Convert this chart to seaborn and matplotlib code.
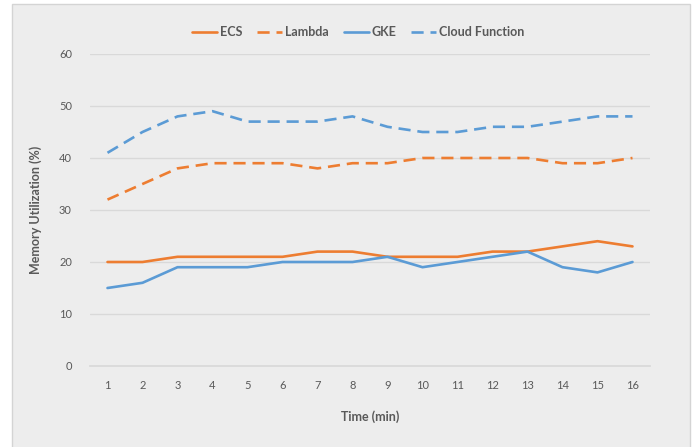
import pandas as pd
import matplotlib.pyplot as plt
import seaborn as sns
from matplotlib.patches import Rectangle

sns.set_theme(style="white")
plt.rcParams['font.family'] = ['Lato', 'DejaVu Sans']

minutes = list(range(1, 17))
ecs = [20, 20, 21, 21, 21, 21, 22, 22, 21, 21, 21, 22, 22, 23, 24, 23]
lambda_ = [32, 35, 38, 39, 39, 39, 38, 39, 39, 40, 40, 40, 40, 39, 39, 40]
gke = [15, 16, 19, 19, 19, 20, 20, 20, 21, 19, 20, 21, 22, 19, 18, 20]
cloud_fn = [41, 45, 48, 49, 47, 47, 47, 48, 46, 45, 45, 46, 46, 47, 48, 48]

orange = '#ED7D31'
blue = '#5B9BD5'
bg = '#EDEDED'
txt = '#595959'

fig = plt.figure(figsize=(6.97, 4.47), dpi=100, facecolor='white')
fig.patches.append(Rectangle((12 / 697, -0.01), 678 / 697, 443 / 447 + 0.01,
                             transform=fig.transFigure, facecolor=bg,
                             edgecolor='#D4D4D4', lw=1, zorder=-10))
ax = fig.add_axes([90 / 697, 81 / 447, 560 / 697, 312 / 447])
ax.set_zorder(5)
ax.patch.set_alpha(0)

series = [('ECS', ecs, orange, '-'), ('Lambda', lambda_, orange, '--'),
          ('GKE', gke, blue, '-'), ('Cloud Function', cloud_fn, blue, '--')]
for name, vals, col, ls in series:
    df = pd.DataFrame({'t': minutes, 'v': vals})
    sns.lineplot(data=df, x='t', y='v', ax=ax, color=col, lw=1.9, label=name)
    l = ax.get_lines()[-1]
    if ls == '--':
        l.set_dashes((4.6, 2.6))

ax.set_xlim(0.5, 16.5)
ax.set_ylim(0, 60)
ax.set_yticks(range(0, 61, 10))
ax.set_xticks(minutes)
ax.yaxis.grid(True, color='#D9D9D9', lw=1)
for s in ['top', 'right', 'left']:
    ax.spines[s].set_visible(False)
ax.spines['bottom'].set_color('#D9D9D9')
ax.tick_params(axis='both', length=0, labelsize=8, labelcolor=txt, pad=10)
ax.tick_params(axis='y', pad=13)
ax.set_xlabel('Time (min)', fontsize=9, fontweight='bold', color=txt, labelpad=14)
ax.set_ylabel('Memory Utilization (%)', fontsize=9, fontweight='bold', color=txt, labelpad=12)

ax.legend(loc='center', bbox_to_anchor=(0.479, 1.07), ncol=4, frameon=False,
          fontsize=9, handlelength=2.0, handletextpad=0.2, columnspacing=1.2,
          labelcolor=txt)
for t in ax.get_legend().get_texts():
    t.set_fontweight('bold')

fig.savefig('out.png', dpi=100, facecolor='white')
